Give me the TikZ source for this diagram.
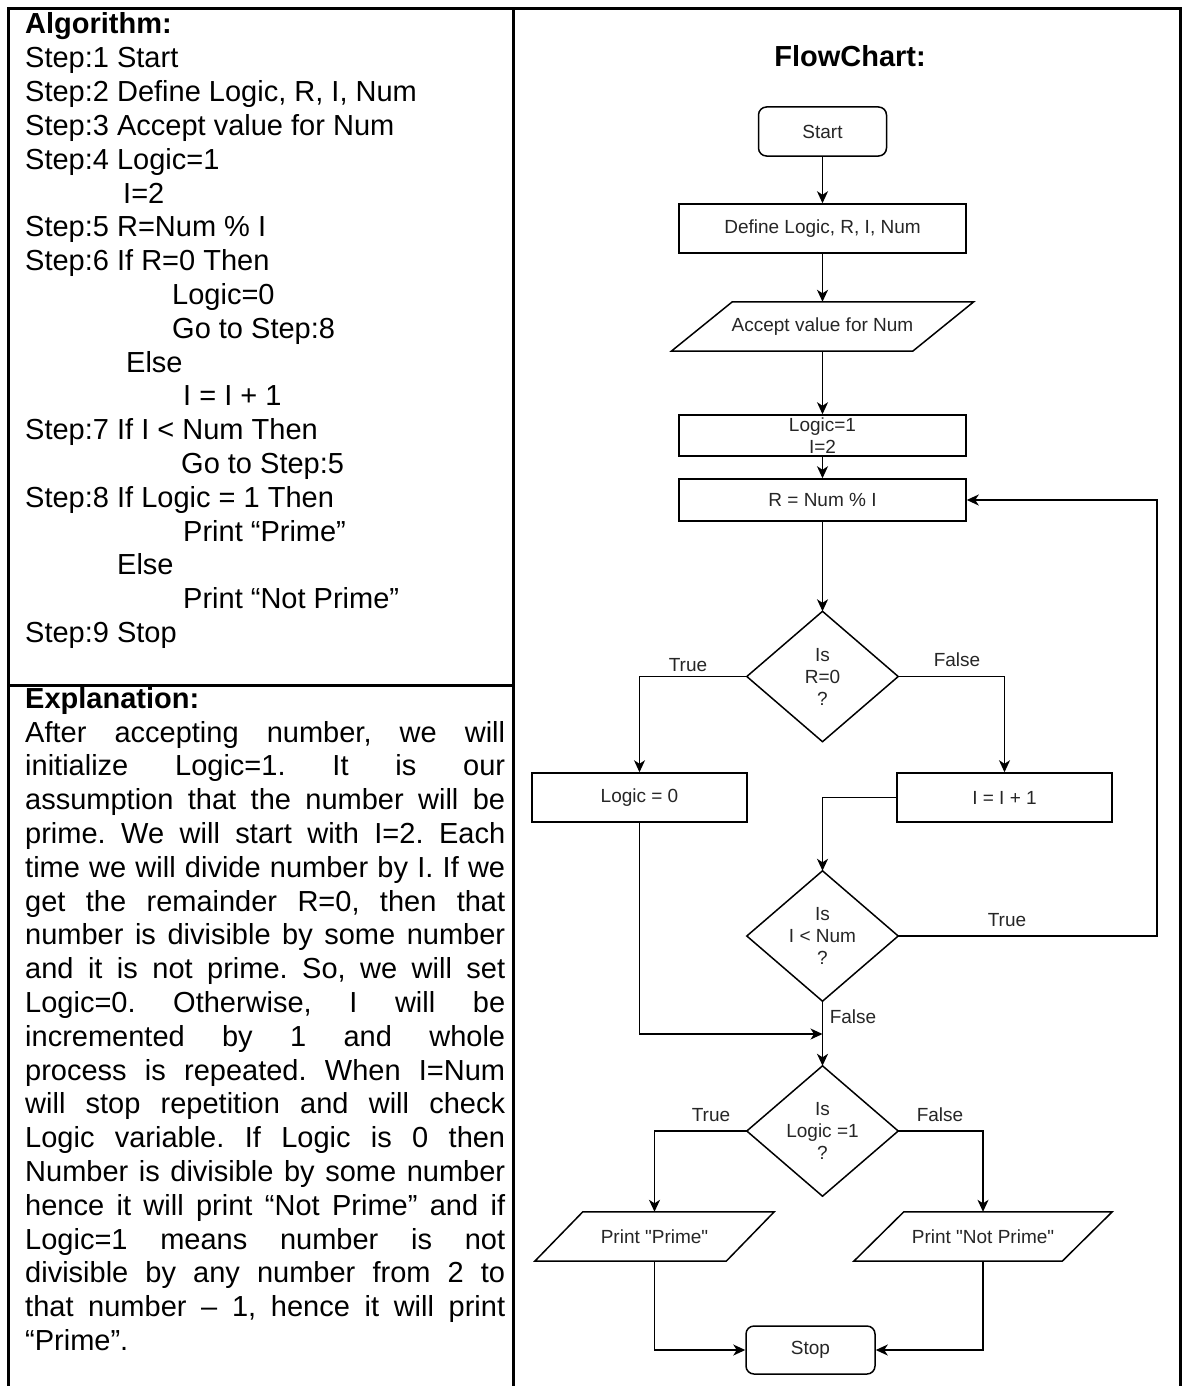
\documentclass[tikz,border=0pt]{standalone}
\usepackage{fontspec}
\setmainfont{Liberation Sans}
\newfontfamily\fcplain[Ligatures=TeXOff]{Liberation Sans}
\usetikzlibrary{arrows.meta}
\frenchspacing
\begin{document}
\begin{tikzpicture}[x=1pt,y=-1pt,
  tbl/.style={line width=3pt},
  body/.style={inner sep=0pt, anchor=base west, font=\fontsize{29}{33.8}\selectfont},
  head/.style={inner sep=0pt, anchor=base west, font=\fontsize{29}{33.8}\selectfont\bfseries},
  fc/.style={font=\fcplain\fontsize{19}{22}\selectfont, text=black!85, align=center, inner sep=0pt},
  box/.style={fc, draw, line width=1.5pt, minimum width=287pt, minimum height=49pt},
  term/.style={fc, draw, line width=1.5pt, rounded corners=8pt, minimum width=128pt, minimum height=49pt},
  shp/.style={fc, minimum height=49pt},
  dia/.style={fc, minimum width=151pt, minimum height=130pt},
  outline/.style={line width=1.5pt, line join=miter},
  conn/.style={line width=1.5pt, -{Stealth[length=12pt,width=11pt,inset=3.5pt]}},
  lbl/.style={font=\fcplain\fontsize{19}{22}\selectfont, text=black!85, inner sep=0pt},
]
\fill[white] (0,0) rectangle (1184,1386);
\useasboundingbox (0,0) rectangle (1184,1386);

% table frame
\draw[tbl] (8,1386) -- (8,8.5) -- (1180,8.5) -- (1180,1386);
\draw[tbl] (513.5,8.5) -- (513.5,1386);
\draw[tbl] (8,685) -- (513.5,685);

% algorithm
\node[head] (algh) at (25,34) {Algorithm:};
\node[body] (a1) at (25,67.8) {Step:1 Start};
\node[body] (a2) at (25,101.6) {Step:2 Define Logic, R, I, Num};
\node[body] (a3) at (25,135.4) {Step:3 Accept value for Num};
\node[body] (a4) at (25,169.2) {Step:4 Logic=1};
\node[body] (a5) at (123,203) {I=2};
\node[body] (a6) at (25,236.8) {Step:5 R=Num \% I};
\node[body] (a7) at (25,270.6) {Step:6 If R=0 Then};
\node[body] (a8) at (172,304.4) {Logic=0};
\node[body] (a9) at (172,338.2) {Go to Step:8};
\node[body] (a10) at (126,372) {Else};
\node[body] (a11) at (183,405.8) {I = I + 1};
\node[body] (a12) at (25,439.6) {Step:7 If I < Num Then};
\node[body] (a13) at (181,473.4) {Go to Step:5};
\node[body] (a14) at (25,507.2) {Step:8 If Logic = 1 Then};
\node[body] (a15) at (183,541) {Print “Prime”};
\node[body] (a16) at (117,574.8) {Else};
\node[body] (a17) at (183,608.6) {Print “Not Prime”};
\node[body] (a18) at (25,642.4) {Step:9 Stop};

% explanation
\node[head] (exh) at (25,708) {Explanation:};
\node[body] (e1) at (25,742) {\makebox[480pt][s]{After accepting number, we will}};
\node[body] (e2) at (25,775.8) {\makebox[480pt][s]{initialize Logic=1. It is our}};
\node[body] (e3) at (25,809.6) {\makebox[480pt][s]{assumption that the number will be}};
\node[body] (e4) at (25,843.4) {\makebox[480pt][s]{prime. We will start with I=2. Each}};
\node[body] (e5) at (25,877.2) {\makebox[480pt][s]{time we will divide number by I. If we}};
\node[body] (e6) at (25,911) {\makebox[480pt][s]{get the remainder R=0, then that}};
\node[body] (e7) at (25,944.8) {\makebox[480pt][s]{number is divisible by some number}};
\node[body] (e8) at (25,978.6) {\makebox[480pt][s]{and it is not prime. So, we will set}};
\node[body] (e9) at (25,1012.4) {\makebox[480pt][s]{Logic=0. Otherwise, I will be}};
\node[body] (e10) at (25,1046.2) {\makebox[480pt][s]{incremented by 1 and whole}};
\node[body] (e11) at (25,1080) {\makebox[480pt][s]{process is repeated. When I=Num}};
\node[body] (e12) at (25,1113.8) {\makebox[480pt][s]{will stop repetition and will check}};
\node[body] (e13) at (25,1147.6) {\makebox[480pt][s]{Logic variable. If Logic is 0 then}};
\node[body] (e14) at (25,1181.4) {\makebox[480pt][s]{Number is divisible by some number}};
\node[body] (e15) at (25,1215.2) {\makebox[480pt][s]{hence it will print “Not Prime” and if}};
\node[body] (e16) at (25,1249) {\makebox[480pt][s]{Logic=1 means number is not}};
\node[body] (e17) at (25,1282.8) {\makebox[480pt][s]{divisible by any number from 2 to}};
\node[body] (e18) at (25,1316.6) {\makebox[480pt][s]{that number – 1, hence it will print}};
\node[body] (e19) at (25,1350.4) {“Prime”.};

% flowchart
\node[head, anchor=base] (fct) at (850,67) {FlowChart:};
\node[term] (start) at (822.5,131.5) {Start};
\node[box] (def) at (822.5,228.5) {Define Logic, R, I, Num};
\node[shp, minimum width=302pt] (acc) at (822.5,326.5) {Accept value for Num};
\node[box, minimum height=41pt] (init) at (822.5,435.5) {Logic=1\\I=2};
\node[box, minimum height=42pt] (rbox) at (822.5,500) {R = Num \% I};
\node[dia] (d1) at (822.5,676.5) {Is\\R=0\\?};
\node[box, minimum width=215pt] (l0) at (639.5,797.5) {Logic = 0};
\node[box, minimum width=215pt] (inc) at (1004.5,797.5) {I = I + 1};
\node[dia] (d2) at (822.5,936) {Is\\I < Num\\?};
\node[dia] (d3) at (822.5,1131) {Is\\Logic =1\\?};
\node[shp, minimum width=239pt] (pp) at (654.5,1236.5) {Print "Prime"};
\node[shp, minimum width=258pt] (pnp) at (983,1236.5) {Print "Not Prime"};
\node[term, minimum width=129pt, minimum height=48pt] (stop) at (810.5,1350) {Stop};

% shape outlines
\draw[outline] (acc.south west) -- ([xshift=61pt]acc.north west) -- (acc.north east) -- ([xshift=-61pt]acc.south east) -- cycle;
\draw[outline] (pp.south west) -- ([xshift=48pt]pp.north west) -- (pp.north east) -- ([xshift=-48pt]pp.south east) -- cycle;
\draw[outline] (pnp.south west) -- ([xshift=50pt]pnp.north west) -- (pnp.north east) -- ([xshift=-50pt]pnp.south east) -- cycle;
\draw[outline] (d1.north) -- (d1.east) -- (d1.south) -- (d1.west) -- cycle;
\draw[outline] (d2.north) -- (d2.east) -- (d2.south) -- (d2.west) -- cycle;
\draw[outline] (d3.north) -- (d3.east) -- (d3.south) -- (d3.west) -- cycle;

% connectors
\draw[conn] (start.south) -- (def.north);
\draw[conn] (def.south) -- (acc.north);
\draw[conn] (acc.south) -- (init.north);
\draw[conn] (init.south) -- (rbox.north);
\draw[conn] (rbox.south) -- (d1.north);
\draw[conn] (d1.west) -| (l0.north);
\draw[conn] (d1.east) -| (inc.north);
\draw[conn] (inc.west) -| (d2.north);
\coordinate (loopc) at (1157,936);
\draw[conn] (d2.east) -- (loopc) |- (rbox.east);
\coordinate (join) at (822.5,1034);
\draw[conn] (l0.south) |- (join);
\draw[conn] (d2.south) -- (d3.north);
\draw[conn] (d3.west) -| (pp.north);
\draw[conn] (d3.east) -| (pnp.north);
\draw[conn] (pp.south) |- (stop.west);
\draw[conn] (pnp.south) |- (stop.east);

% labels
\node[lbl] (t1) at (688,665) {True};
\node[lbl] (f1) at (957,660) {False};
\node[lbl] (t2) at (1007,920) {True};
\node[lbl] (f2) at (853,1017) {False};
\node[lbl] (t3) at (711,1115) {True};
\node[lbl] (f3) at (940,1115) {False};
\end{tikzpicture}
\end{document}
